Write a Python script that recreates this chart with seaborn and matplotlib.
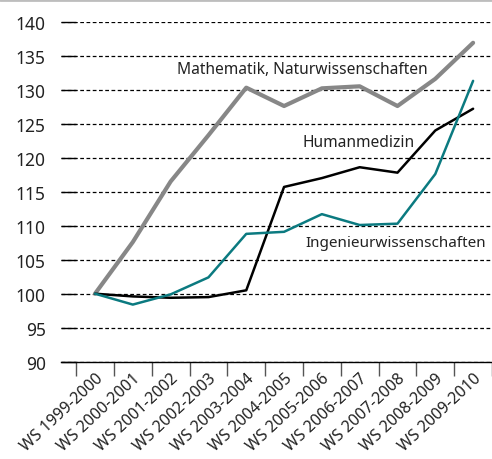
import numpy as np
import pandas as pd
import matplotlib.pyplot as plt
import seaborn as sns
from matplotlib.ticker import FixedLocator

sns.set_theme(style="white")
plt.rcParams['font.family'] = ['Noto Sans', 'DejaVu Sans']

# Wintersemester, Index WS 1999-2000 = 100
semester = ["WS 1999-2000", "WS 2000-2001", "WS 2001-2002", "WS 2002-2003",
            "WS 2003-2004", "WS 2004-2005", "WS 2005-2006", "WS 2006-2007",
            "WS 2007-2008", "WS 2008-2009", "WS 2009-2010"]
mathe_natur = [100, 107.6, 116.5, 123.3, 130.3, 127.6, 130.2, 130.5, 127.6, 131.6, 136.9]
humanmedizin = [100, 99.6, 99.4, 99.5, 100.5, 115.7, 117.0, 118.6, 117.8, 124.0, 127.2]
ingenieur = [100, 98.4, 99.9, 102.4, 108.8, 109.1, 111.7, 110.1, 110.3, 117.6, 131.3]

pos = np.arange(len(semester))

fig = plt.figure(figsize=(4.92, 4.6), dpi=100)
ax = fig.add_axes([61/492, 1 - 362.7/460, 431/492, 340/460])

sns.lineplot(x=pos, y=mathe_natur, color="#878787", linewidth=3.0, ax=ax)
sns.lineplot(x=pos, y=humanmedizin, color="black", linewidth=1.8, ax=ax)
sns.lineplot(x=pos, y=ingenieur, color="#0b7a80", linewidth=1.8, ax=ax)

ax.set_xlim(-0.9, 10.5)
ax.set_ylim(90, 140)

# Gitterlinien gestrichelt
ax.set_yticks(range(90, 141, 5))
ax.yaxis.grid(True, linestyle=(0, (3, 2)), color="black", linewidth=0.9)
ax.xaxis.grid(False)
ax.tick_params(axis="y", direction="in", length=11, width=1.0, color="black",
               pad=11, labelsize=12.5, labelcolor="#222222", left=True)

ax.set_xticks(pos)
ax.set_xticklabels(semester, rotation=43, ha="right", va="top",
                   rotation_mode="anchor", fontsize=11.5, color="#222222")
ax.xaxis.set_minor_locator(FixedLocator(np.arange(-0.5, 10.6, 1)))
ax.tick_params(axis="x", which="major", length=0, pad=6)
ax.tick_params(axis="x", which="minor", length=10, width=1.0, color="#555555",
               direction="out", bottom=True)

for s in ["top", "right", "left"]:
    ax.spines[s].set_visible(False)
ax.spines["bottom"].set_color("black")
ax.spines["bottom"].set_linewidth(1.0)

# Beschriftungen der Linien
ax.text(5.48, 133.0, "Mathematik, Naturwissenschaften", ha="center", va="center",
        fontsize=11.2, color="#222222")
ax.text(6.96, 122.3, "Humanmedizin", ha="center", va="center",
        fontsize=11.2, color="#222222")
ax.text(5.57, 107.6, "Ingenieurwissenschaften", ha="left", va="center",
        fontsize=11.0, color="#222222")

# graue Linie am oberen Rand
fig.add_artist(plt.Line2D([0, 1], [0.998, 0.998], color="#bdbdbd", linewidth=2,
                          transform=fig.transFigure))

fig.savefig("out.png", dpi=100)
